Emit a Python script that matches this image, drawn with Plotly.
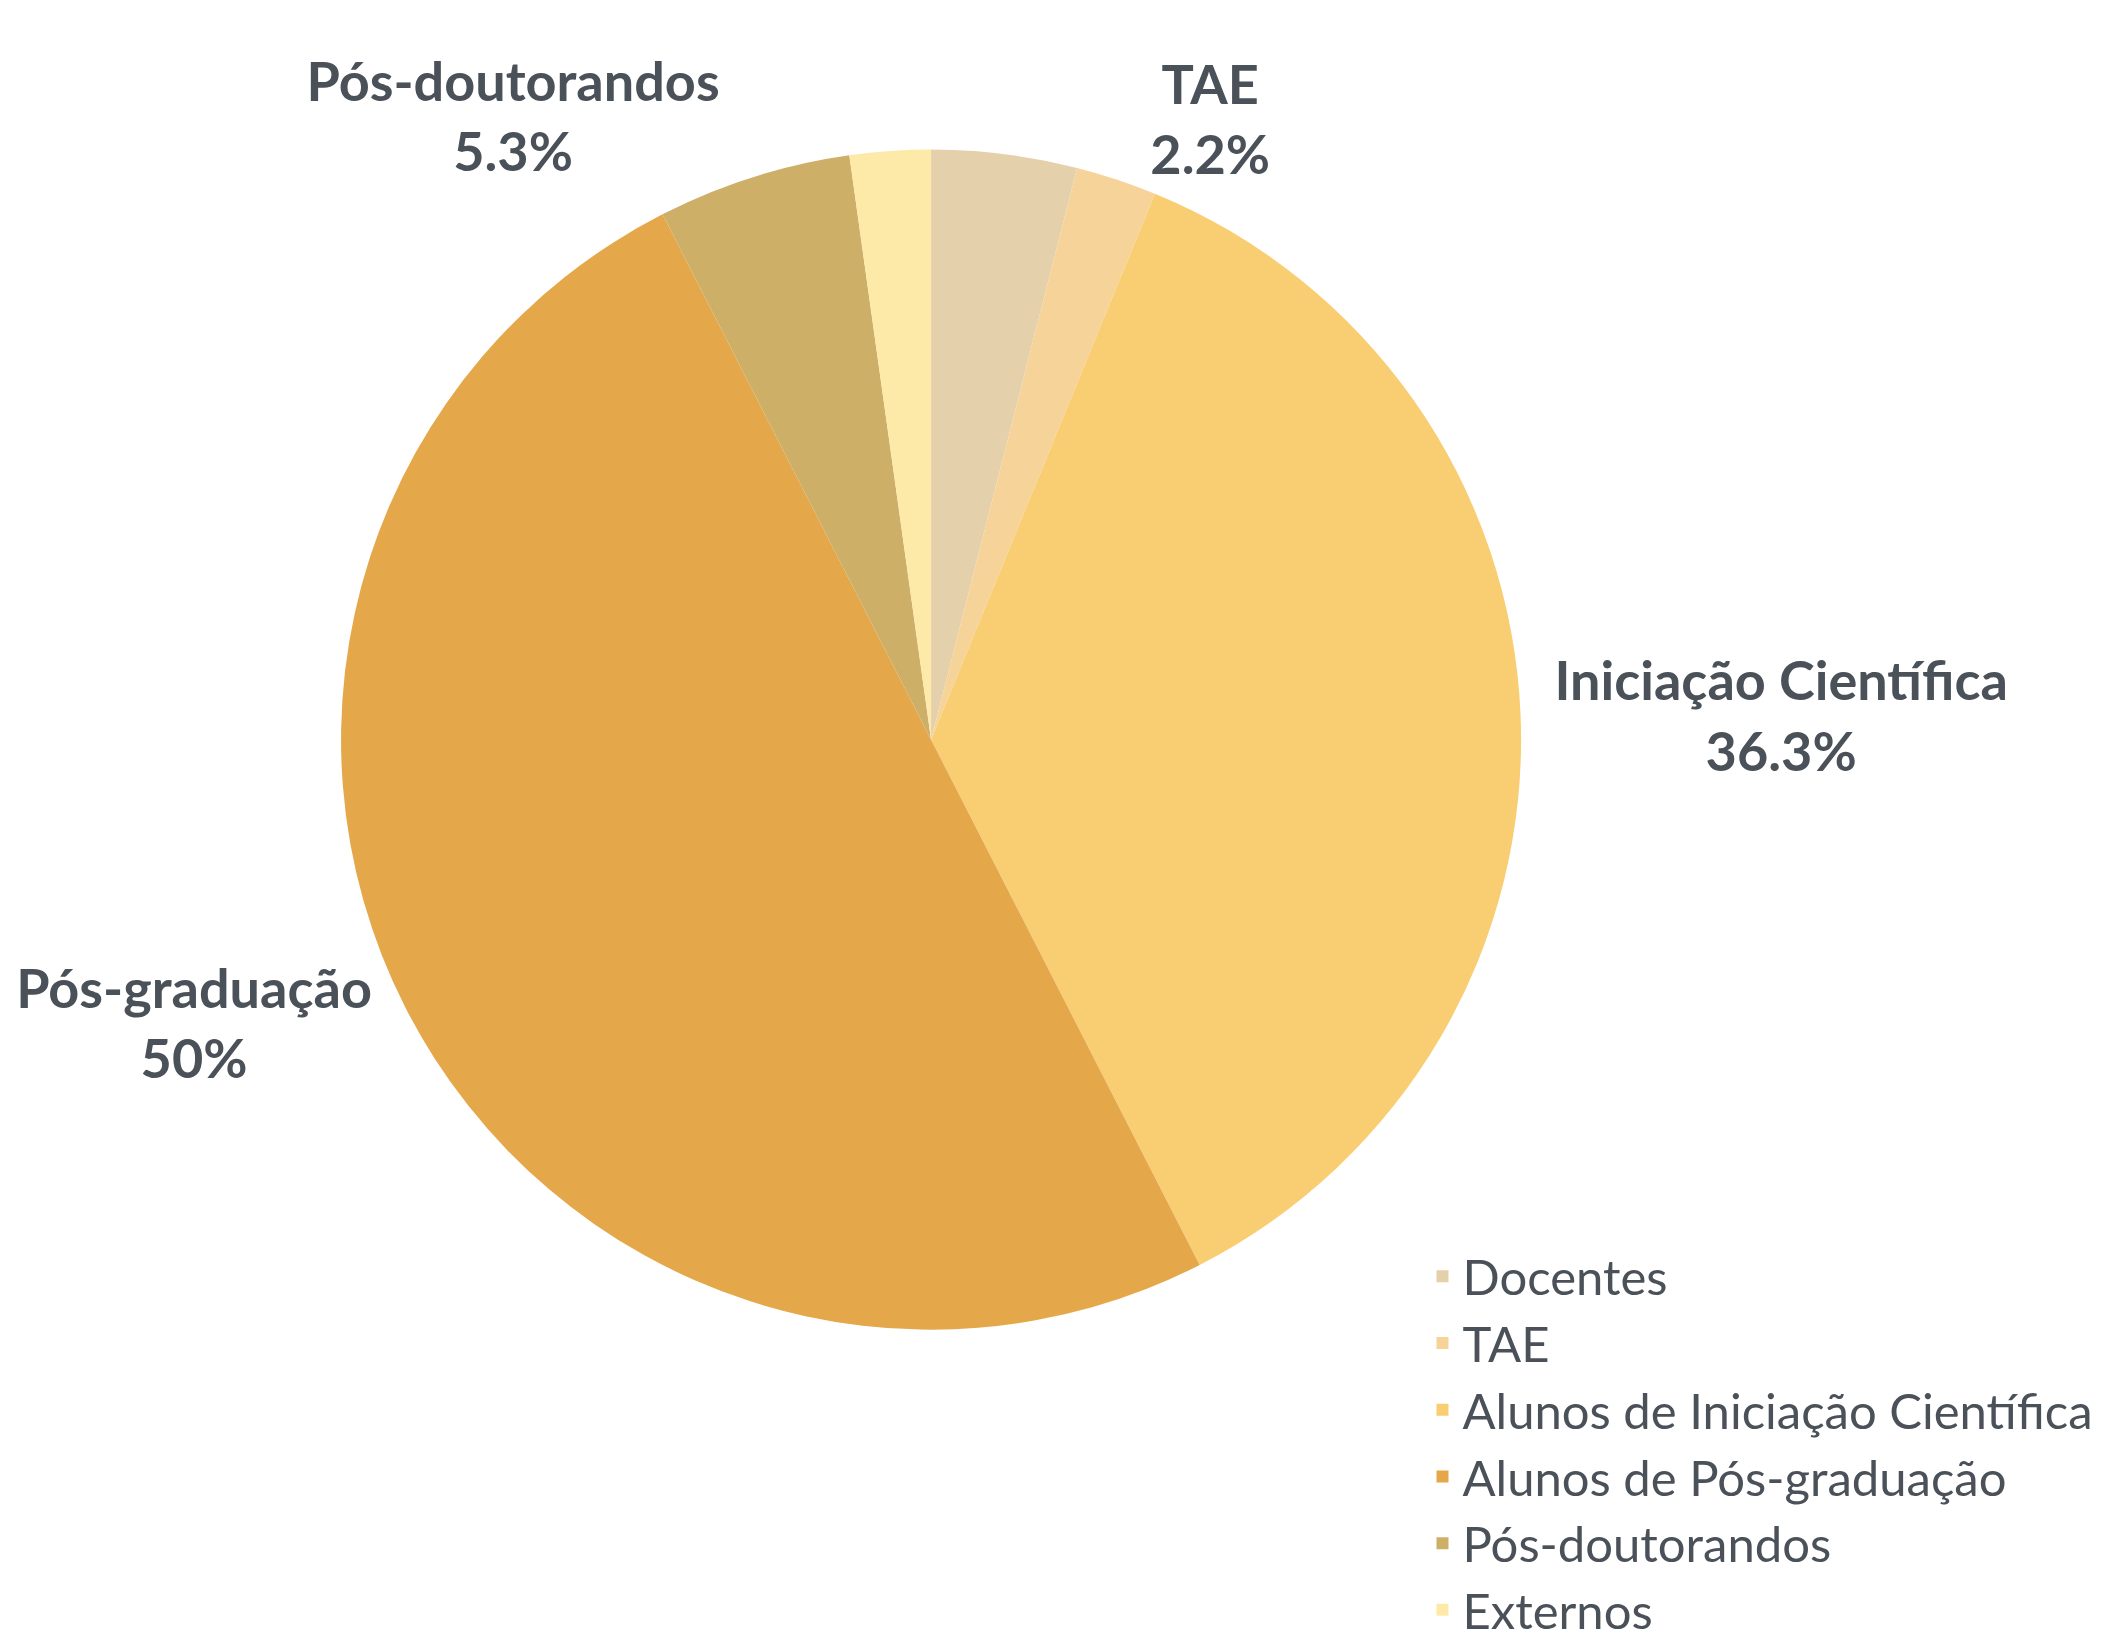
import plotly.graph_objects as go

categories = ["Docentes", "TAE", "Alunos de Iniciação Científica", "Alunos de Pós-graduação",
              "Pós-doutorandos", "Externos"]
short_labels = ["Docentes", "TAE", "Iniciação Científica", "Pós-graduação", "Pós-doutorandos", "Externos"]
counts = [9, 5, 82, 113, 12, 5]
colors = ["#E5D0AC", "#F6D399", "#F9CE73", "#E4A84B", "#CEAF68", "#FDEAA9"]
label_shown = ["none", "outside", "outside", "outside", "outside", "none"]

text_color = "#4B5159"

fig = go.Figure(
    go.Pie(
        labels=categories,
        values=counts,
        text=short_labels,
        sort=False,
        direction="clockwise",
        rotation=0,
        marker=dict(colors=colors, line=dict(width=0)),
        textposition=label_shown,
        texttemplate="%{text}<br>%{percent:.1~%}",
        outsidetextfont=dict(family="Lato", size=54, color=text_color, weight="bold"),
        domain=dict(x=[0.1585, 0.7202], y=[0.1946, 0.9137]),
        hoverinfo="label+percent",
    )
)

fig.update_layout(
    width=2101,
    height=1641,
    margin=dict(l=0, r=0, t=0, b=0),
    paper_bgcolor="white",
    plot_bgcolor="white",
    font=dict(family="Lato", color=text_color),
    showlegend=True,
    legend=dict(
        orientation="v",
        x=0.995,
        xanchor="right",
        y=0.0,
        yanchor="bottom",
        font=dict(family="Lato", size=49, color=text_color),
        bgcolor="rgba(0,0,0,0)",
    ),
)

fig.write_html("out.html")
